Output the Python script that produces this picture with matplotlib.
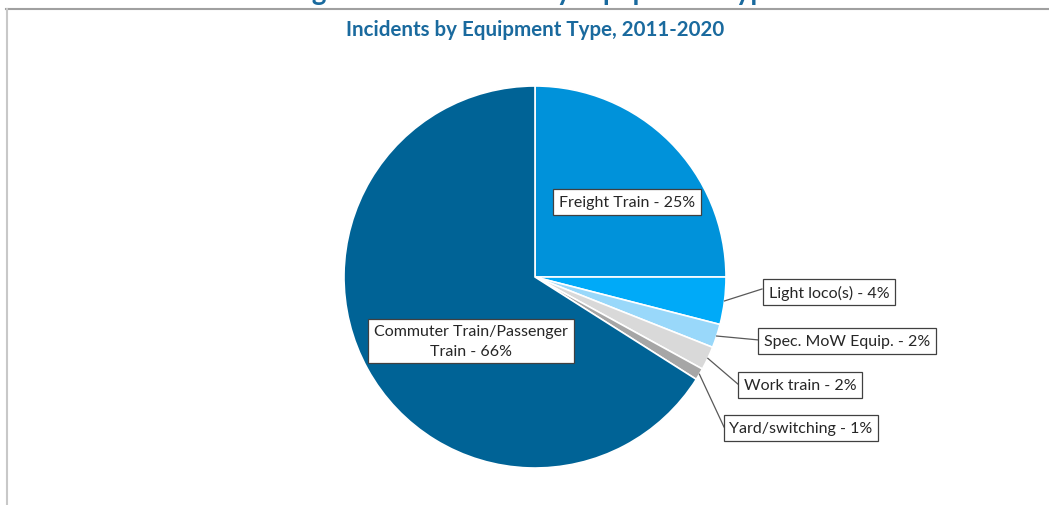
import numpy as np
import matplotlib
matplotlib.use("Agg")
import matplotlib.pyplot as plt
from matplotlib.lines import Line2D

# data, clockwise from 12 o'clock
categories = ["Freight Train", "Light loco(s)", "Spec. MoW Equip.", "Work train",
              "Yard/switching", "Commuter Train/Passenger\nTrain"]
shares = [25, 4, 2, 2, 1, 66]
colors = ["#0092DA", "#00AAF8", "#99D8FA", "#D9D9D9", "#A6A6A6", "#006396"]

title = "Incidents by Equipment Type, 2011-2020"
cut_title = "Figure 10: Incidents by Equipment Type"

plt.rcParams['font.family'] = ['Lato', 'DejaVu Sans']

W, H = 1049, 506
cx, cy, R = 535, 278, 191.0

def px(x, y):
    # pixel (from top-left) -> data units of the pie axes
    return ((x - cx) / R, (cy - y) / R)

fig = plt.figure(figsize=(W / 100, H / 100), dpi=100)
ax = fig.add_axes([0, 0, 1, 1])

wedges, _ = ax.pie(shares, colors=colors, startangle=90, counterclock=False,
                   radius=1.0, wedgeprops=dict(edgecolor="white", linewidth=1.2))
ax.set_xlim(-cx / R, (W - cx) / R)
ax.set_ylim(-(H - cy) / R, cy / R)
ax.set_aspect('auto')
ax.axis('off')

box = dict(boxstyle="square,pad=0.35", fc="white", ec="#404040", lw=0.9)
tcol = "#262626"
lcol = "#595959"
fs = 11.5

# labels inside the big slices
ax.text(*px(627, 203), categories[0] + " - %d%%" % shares[0], ha="center", va="center",
        fontsize=fs, color=tcol, bbox=box)
ax.text(*px(471, 342), categories[5] + " - %d%%" % shares[5], ha="center", va="center",
        fontsize=fs, color=tcol, bbox=box, linespacing=1.5)

# labels outside with leader lines
outside = [
    (1, (829, 293), (762, 290)),
    (2, (847, 342), (759, 341)),
    (3, (800, 386), (739, 386)),
    (4, (801, 429), (724, 428)),
]
for i, (tx, ty), (kx, ky) in outside:
    w = wedges[i]
    ang = np.deg2rad((w.theta1 + w.theta2) / 2)
    ex, ey = np.cos(ang), np.sin(ang)
    kdx, kdy = px(kx, ky)
    ax.plot([ex, kdx], [ey, kdy], color=lcol, lw=0.9)
    ax.text(*px(tx, ty), categories[i] + " - %d%%" % shares[i], ha="center", va="center",
            fontsize=fs, color=tcol, bbox=box)

fig.text(535 / W, 1 - 30 / H, title, ha="center", va="center", fontsize=14.8,
         fontweight="bold", color="#1A6A9E")
fig.text(535 / W, 1 + 8 / H, cut_title, ha="center", va="center", fontsize=20,
         fontweight="bold", color="#1A6A9E")

# frame of the chart area
fig.add_artist(Line2D([6 / W, 1], [1 - 9.5 / H, 1 - 9.5 / H], color="#A0A0A0", lw=1.5))
fig.add_artist(Line2D([7 / W, 7 / W], [0, 1 - 9.5 / H], color="#C8C8C8", lw=1.5))

fig.savefig("out.png", dpi=100)
